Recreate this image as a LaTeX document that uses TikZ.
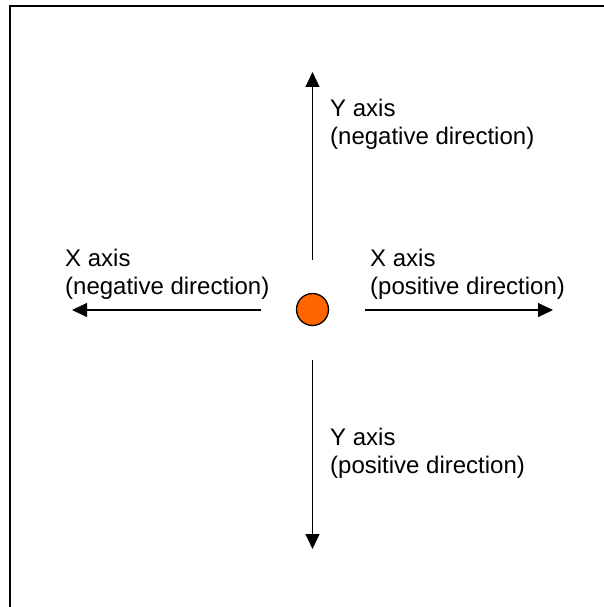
\documentclass[tikz,border=0pt]{standalone}
\usepackage{fontspec}
\setmainfont{Liberation Sans}
\usetikzlibrary{arrows.meta}
\definecolor{ballorange}{RGB}{255,102,0}
\tikzset{
  axisarrow/.style={line width=1.1pt, -{Triangle[length=15pt,width=14pt]}},
  axislabel/.style={anchor=north west, inner sep=0pt, align=left,
    font=\fontsize{24}{27.6}\selectfont},
  frameline/.style={line width=2pt}
}
\begin{document}
\begin{tikzpicture}[x=1pt,y=-1pt]
  \useasboundingbox (0,0) rectangle (604,607);
  % frame (right and bottom sides fall outside the page)
  \draw[frameline] (10,620) -- (10,6) -- (620,6);
  % centre point
  \node[circle, draw, line width=1.3pt, fill=ballorange, minimum size=32pt, inner sep=0pt] (ball) at (312.5,309.5) {};
  % arrow start and end points
  \coordinate (upS) at (312.5,260);   \coordinate (upE) at (312.5,72);
  \coordinate (dnS) at (312.5,360);   \coordinate (dnE) at (312.5,549);
  \coordinate (lfS) at (261,310);     \coordinate (lfE) at (72,310);
  \coordinate (rtS) at (365,310);     \coordinate (rtE) at (553,310);
  \draw[axisarrow] (upS) -- (upE);
  \draw[axisarrow] (dnS) -- (dnE);
  \draw[axisarrow] (lfS) -- (lfE);
  \draw[axisarrow] (rtS) -- (rtE);
  % labels
  \node[axislabel] (ylneg) at (330,99) {Y axis\\(negative direction)};
  \node[axislabel] (xlneg) at (65,249) {X axis\\(negative direction)};
  \node[axislabel] (xlpos) at (370,249) {X axis\\(positive direction)};
  \node[axislabel] (ylpos) at (330,428) {Y axis\\(positive direction)};
\end{tikzpicture}
\end{document}
